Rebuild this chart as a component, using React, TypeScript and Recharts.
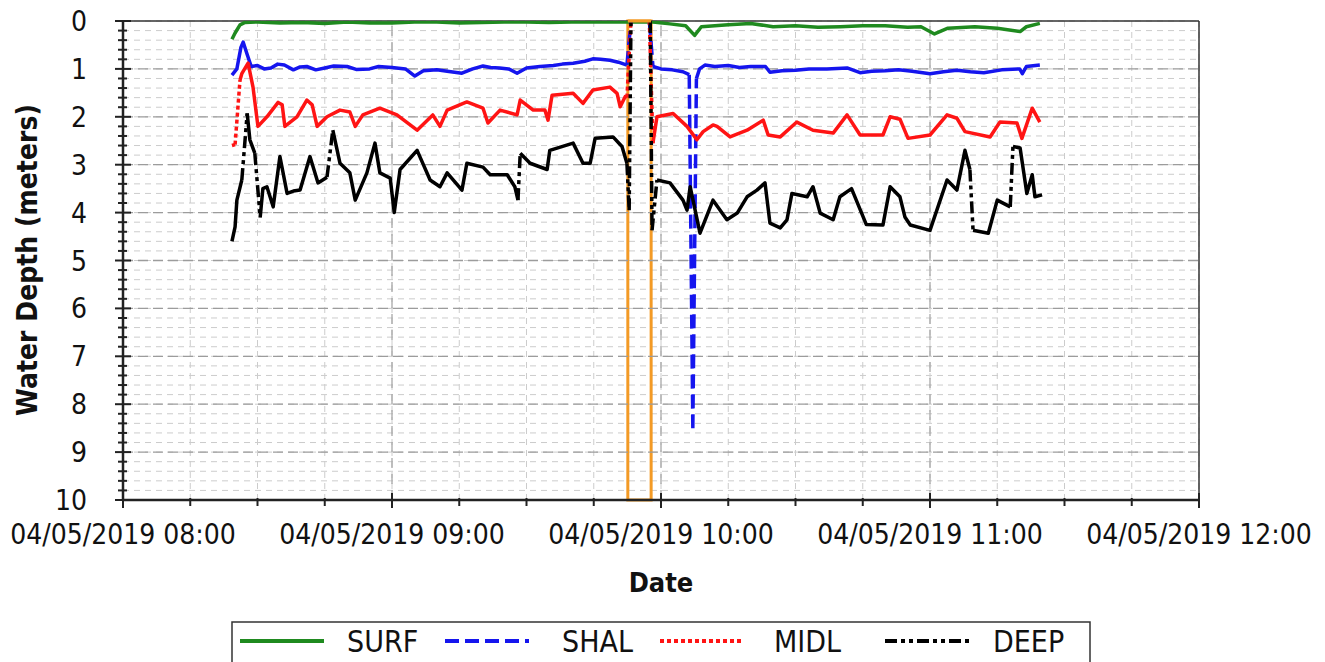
import React from 'react';
import {
  LineChart, Line, XAxis, YAxis, CartesianGrid, ReferenceLine, ReferenceArea,
} from 'recharts';

type Pt = [number, number | null];

// [minutes after 04/05/2019 08:00, water depth in meters]; null = no reading
const SURF: Pt[] = [
  [24.3, 0.38], [25.0, 0.25], [26.1, 0.08], [27.2, 0.03], [30, 0.02], [35, 0.04],
  [40, 0.03], [45, 0.05], [50, 0.02], [55, 0.04], [60, 0.04], [65, 0.02], [70, 0.02],
  [75, 0.04], [80, 0.03], [85, 0.02], [90, 0.02], [95, 0.03], [100, 0.02],
  [112.4, 0.02], [118.2, 0.02], [122, 0.06], [125.5, 0.1], [127.5, 0.3], [129, 0.12],
  [135, 0.08], [140, 0.05], [145, 0.12], [150, 0.1], [155, 0.13], [160, 0.12],
  [165, 0.1], [170, 0.1], [175, 0.13], [178, 0.12], [181, 0.27], [184, 0.15],
  [190, 0.12], [195, 0.15], [200.1, 0.22], [201.5, 0.12], [204.5, 0.05],
];

const SHAL: Pt[] = [
  [24.3, 1.13], [25.4, 1.0], [26.3, 0.55], [26.8, 0.44], [27.7, 0.7], [28.6, 0.95],
  [30, 0.93], [31.5, 1.0], [33, 0.98], [34.5, 0.9], [36, 0.92], [38, 1.02], [39.5, 0.96],
  [41, 0.95], [43, 1.02], [45, 0.98], [47, 0.94], [50, 0.95], [52, 1.01], [55, 1.0],
  [57, 0.95], [60, 0.97], [63, 1.0], [65.1, 1.15], [67, 1.04], [70, 1.02], [72.3, 1.05],
  [75.6, 1.09], [78, 1.0], [80.3, 0.94], [82, 0.97], [84, 0.98], [86, 1.0],
  [87.9, 1.09], [90, 0.98], [93, 0.95], [96, 0.93], [98, 0.9], [100.4, 0.88],
  [103, 0.84], [104.8, 0.79], [106.5, 0.8], [108.6, 0.82], [110.5, 0.86],
  [112.4, 0.92], [113.3, 0.0], [115.5, null], [117.4, 0.0], [118.2, 0.95], [120, 1.0],
  [122.5, 1.02], [124.9, 1.06], [126.3, 1.12], [127.1, 8.5], [127.9, 1.2], [128.6, 1.0],
  [129.8, 0.92], [132, 0.95], [135, 0.93], [137.5, 0.97], [140, 0.95], [143.3, 0.95],
  [144.3, 1.07], [147, 1.04], [150, 1.03], [153, 1.0], [157, 1.0], [161.5, 0.98],
  [164.4, 1.08], [167, 1.05], [170, 1.04], [173, 1.02], [176, 1.05], [180, 1.1],
  [183, 1.06], [186, 1.03], [189, 1.06], [192, 1.08], [196, 1.02], [200, 1.0],
  [200.6, 1.1], [201.5, 0.95], [204.5, 0.92],
];

const MIDL: Pt[] = [
  [24.3, 2.6], [25.0, 2.58], [26.1, 1.23], [26.5, 1.1], [27.9, 0.88], [29.0, 1.38],
  [30.1, 2.2], [32.1, 2.0], [34.6, 1.7], [35.5, 1.75], [36.1, 2.2], [38.8, 2.0],
  [41.0, 1.65], [42.2, 1.75], [43.3, 2.2], [45.5, 2.0], [48.4, 1.86], [50.6, 1.9],
  [51.8, 2.2], [53.5, 1.96], [57.3, 1.82], [61.1, 1.96], [65.6, 2.28], [69.1, 1.96],
  [70.7, 2.2], [72.3, 1.86], [76.7, 1.69], [80.3, 1.82], [81.4, 2.13], [84.1, 1.86],
  [87.9, 1.96], [88.6, 1.65], [91.5, 1.86], [94.1, 1.86], [94.8, 2.07], [95.7, 1.55],
  [100.4, 1.51], [102.6, 1.72], [104.8, 1.44], [108.6, 1.38], [110.2, 1.51],
  [110.9, 1.79], [112.0, 1.58], [112.4, 1.6], [113.3, 0.0], [115.5, null], [117.4, 0.0],
  [118.2, 2.55], [119.1, 2.0], [122.7, 1.93], [125.8, 2.2], [128.0, 2.48], [129.4, 2.31],
  [131.6, 2.17], [132.5, 2.2], [135.4, 2.42], [139.2, 2.28], [142.8, 2.07],
  [143.9, 2.38], [146.6, 2.42], [150.3, 2.11], [153.9, 2.28], [158.4, 2.34],
  [161.5, 1.96], [164.4, 2.38], [169.5, 2.38], [171.1, 2.0], [173.3, 2.05],
  [175.1, 2.45], [180.0, 2.38], [183.8, 1.96], [186.0, 2.03], [187.8, 2.31],
  [193.4, 2.42], [195.6, 2.11], [199.4, 2.13], [200.5, 2.45], [202.8, 1.82],
  [204.5, 2.11],
];

const DEEP: Pt[] = [
  [24.3, 4.6], [25.0, 4.3], [25.4, 3.74], [26.5, 3.32], [27.7, 1.93], [28.3, 2.48],
  [29.4, 2.76], [30.6, 4.1], [31.2, 3.5], [32.1, 3.46], [33.5, 3.88], [35.0, 2.83],
  [36.6, 3.6], [38, 3.55], [39.5, 3.53], [41.7, 2.83], [43.5, 3.38], [45.5, 3.26],
  [46.8, 2.28], [48.4, 2.97], [50.6, 3.17], [51.8, 3.74], [54.4, 3.17], [56.2, 2.55],
  [57.3, 3.17], [59.6, 3.28], [60.5, 4.0], [61.8, 3.1], [65.6, 2.7], [68.5, 3.32],
  [70.7, 3.46], [72.3, 3.17], [75.6, 3.53], [76.7, 2.97], [80.3, 3.05], [81.9, 3.21],
  [85.7, 3.21], [87.4, 3.46], [88.1, 3.74], [88.6, 2.76], [90.8, 2.97], [94.6, 3.1],
  [95.2, 2.7], [100.4, 2.55], [102.6, 2.97], [104.2, 2.97], [105.3, 2.45],
  [109.3, 2.42], [111.3, 2.62], [112.4, 2.97], [112.9, 3.95], [113.3, 0.0],
  [115.5, null], [117.6, 0.0], [118.0, 4.37], [119.1, 3.32], [122.0, 3.38],
  [124.9, 3.74], [125.8, 3.95], [126.5, 3.46], [128.7, 4.43], [131.6, 3.74],
  [134.7, 4.15], [137.0, 4.01], [139.2, 3.67], [141.4, 3.53], [143.2, 3.38],
  [144.3, 4.22], [146.6, 4.32], [148.1, 4.15], [149.2, 3.6], [152.6, 3.67],
  [153.9, 3.46], [155.5, 4.01], [158.4, 4.15], [159.9, 3.67], [162.5, 3.5],
  [165.8, 4.25], [169.5, 4.26], [171.1, 3.46], [173.3, 3.67], [174.4, 4.09],
  [175.6, 4.26], [180.0, 4.37], [183.8, 3.32], [186.0, 3.53], [187.8, 2.7],
  [188.9, 3.1], [189.6, 4.37], [193.0, 4.43], [195.0, 3.74], [197.9, 3.88],
  [198.5, 2.62], [200.1, 2.65], [201.6, 3.6], [202.8, 3.21], [203.4, 3.67],
  [205.0, 3.63],
];

const X_TICKS = [0, 15, 30, 45, 60, 75, 90, 105, 120, 135, 150, 165, 180, 195, 210, 225, 240];
const X_LABELS: Record<number, string> = {
  0: '04/05/2019 08:00',
  60: '04/05/2019 09:00',
  120: '04/05/2019 10:00',
  180: '04/05/2019 11:00',
  240: '04/05/2019 12:00',
};
const Y_MAJOR = [0, 1, 2, 3, 4, 5, 6, 7, 8, 9, 10];
const Y_TICKS = Array.from({ length: 51 }, (_, i) => i / 5);
const HOUR_LINES = [60, 120, 180];
const BOX: [number, number] = [112.6, 117.8];

const SERIES = [
  { name: 'SURF', data: SURF, color: '#1f8a1f', dash: '' },
  { name: 'SHAL', data: SHAL, color: '#1515ee', dash: '14 6' },
  { name: 'MIDL', data: MIDL, color: '#ff1414', dash: '4 3' },
  { name: 'DEEP', data: DEEP, color: '#000000', dash: '12 4 4 4 4 4' },
];

const FONT = '"DejaVu Sans Condensed", "DejaVu Sans", sans-serif';
const ORANGE = '#f39a25';

// split into flat parts (solid) and steep jumps (drawn with the series dash)
function splitSteep(pts: Pt[]) {
  const solid: { t: number; d: number | null }[] = [{ t: pts[0][0], d: pts[0][1] }];
  const steep: { t: number; d: number | null }[] = [];
  for (let i = 0; i < pts.length - 1; i++) {
    const [t0, d0] = pts[i];
    const [t1, d1] = pts[i + 1];
    if (d0 != null && d1 != null) {
      const dd = Math.abs(d1 - d0);
      if (dd >= 0.9 && dd / (t1 - t0) >= 0.7) {
        solid.push({ t: t0, d: null });
        steep.push({ t: t0, d: d0 }, { t: t1, d: d1 }, { t: t1, d: null });
      }
    }
    solid.push({ t: t1, d: d1 });
  }
  return { solid, steep };
}

const YTickLeft = (props: any) => {
  const { x, y, payload } = props;
  const v = payload.value;
  const major = Math.abs(v - Math.round(v)) < 1e-6;
  return (
    <g>
      <line x1={major ? x - 8 : x - 5} x2={major ? x + 8 : x + 4} y1={y} y2={y} stroke="#222" strokeWidth={2} />
      {major && (
        <text x={x - 36} y={y} dy="0.36em" textAnchor="end" fontSize={28} fontFamily={FONT} fill="#111">
          {Math.round(v)}
        </text>
      )}
    </g>
  );
};

const YTickRight = (props: any) => {
  const { x, y, payload } = props;
  const v = payload.value;
  const major = Math.abs(v - Math.round(v)) < 1e-6;
  return <line x1={major ? x - 8 : x - 4} x2={x} y1={y} y2={y} stroke="#222" strokeWidth={2} />;
};

const XTick = (props: any) => {
  const { x, y, payload } = props;
  const label = X_LABELS[payload.value];
  return (
    <g>
      <line x1={x} x2={x} y1={label ? y - 7 : y - 2} y2={label ? y + 8 : y + 6} stroke="#222" strokeWidth={2} />
      {label && (
        <text x={x} y={y + 44} textAnchor="middle" fontSize={28} fontFamily={FONT} fill="#111">
          {label}
        </text>
      )}
    </g>
  );
};

export default function App() {
  const lines = SERIES.flatMap((s) => {
    const { solid, steep } = splitSteep(s.data);
    return [
      <Line
        key={s.name}
        data={solid}
        dataKey="d"
        stroke={s.color}
        strokeWidth={3.5}
        dot={false}
        activeDot={false}
        isAnimationActive={false}
        strokeLinejoin="round"
      />,
      <Line
        key={s.name + '-jump'}
        data={steep}
        dataKey="d"
        stroke={s.color}
        strokeWidth={3.5}
        strokeDasharray={s.dash || undefined}
        dot={false}
        activeDot={false}
        isAnimationActive={false}
      />,
    ];
  });

  return (
    <div style={{ position: 'fixed', left: 0, top: 0, width: 1325, height: 662, background: '#fff', overflow: 'hidden' }}>
      <LineChart width={1325} height={662} margin={{ top: 21, right: 125, bottom: 102, left: 0 }}>
        <CartesianGrid stroke="#cccccc" strokeDasharray="6 5" />
        {Y_MAJOR.slice(1, -1).map((v) => (
          <ReferenceLine key={'h' + v} y={v} stroke="#9c9c9c" strokeDasharray="10 5" strokeWidth={1.3} />
        ))}
        {HOUR_LINES.map((v) => (
          <ReferenceLine key={'v' + v} x={v} stroke="#a8a8a8" strokeDasharray="10 6" strokeWidth={1.3} />
        ))}
        <ReferenceLine y={0} stroke="#333" strokeWidth={1.5} />
        <XAxis
          type="number"
          dataKey="t"
          domain={[0, 240]}
          ticks={X_TICKS}
          interval={0}
          height={60}
          tickSize={0}
          tickMargin={0}
          tickLine={false}
          tick={<XTick />}
          axisLine={{ stroke: '#222', strokeWidth: 2.5 }}
          allowDataOverflow
        />
        <YAxis
          type="number"
          domain={[0, 10]}
          reversed
          ticks={Y_TICKS}
          interval={0}
          width={123}
          tickSize={0}
          tickMargin={0}
          tickLine={false}
          tick={<YTickLeft />}
          axisLine={{ stroke: '#222', strokeWidth: 2.5 }}
          allowDataOverflow
        />
        <YAxis
          yAxisId="r"
          orientation="right"
          type="number"
          domain={[0, 10]}
          reversed
          ticks={Y_TICKS}
          interval={0}
          width={1}
          tickSize={0}
          tickMargin={0}
          tickLine={false}
          tick={<YTickRight />}
          axisLine={{ stroke: '#333', strokeWidth: 1.5 }}
        />
        {lines}
        <ReferenceArea
          x1={BOX[0]}
          x2={BOX[1]}
          y1={0}
          y2={10}
          ifOverflow="visible"
          fill="none"
          fillOpacity={0}
          stroke={ORANGE}
          strokeWidth={3}
        />
        <ReferenceLine
          segment={[{ x: BOX[0], y: 0 }, { x: BOX[1], y: 0 }]}
          ifOverflow="visible"
          stroke={ORANGE}
          strokeWidth={3}
        />
      </LineChart>

      <svg width={1325} height={662} style={{ position: 'absolute', left: 0, top: 0, pointerEvents: 'none' }}>
        <text
          x={0}
          y={0}
          transform="translate(27, 260) rotate(-90)"
          textAnchor="middle"
          dy="0.36em"
          fontSize={28}
          fontWeight="bold"
          fontFamily={FONT}
          fill="#111"
        >
          Water Depth (meters)
        </text>
        <text x={661} y={592} textAnchor="middle" fontSize={27} fontWeight="bold" fontFamily={FONT} fill="#111">
          Date
        </text>
        <rect x={232} y={622} width={858} height={60} fill="#fff" stroke="#333" strokeWidth={1.5} />
        {SERIES.map((s, i) => {
          const lx = [240, 445, 660, 885][i];
          const tx = [347, 562, 774, 993][i];
          return (
            <g key={s.name}>
              <line x1={lx} x2={lx + 84} y1={641} y2={641} stroke={s.color} strokeWidth={4} strokeDasharray={s.dash || undefined} />
              <text x={tx} y={652} fontSize={30} fontFamily={FONT} fill="#111">
                {s.name}
              </text>
            </g>
          );
        })}
      </svg>
    </div>
  );
}
